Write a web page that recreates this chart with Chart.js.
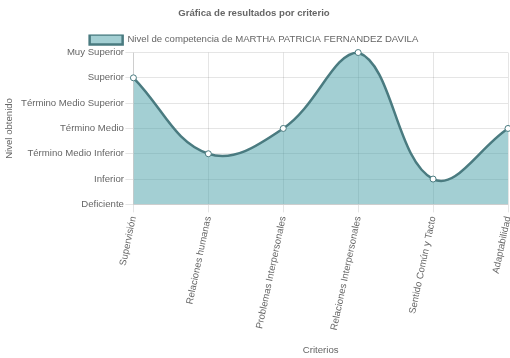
<!DOCTYPE html>
<html>
<head>
<meta charset="utf-8">
<script src="https://cdn.jsdelivr.net/npm/chart.js@4"></script>
<style>
  html, body { margin: 0; padding: 0; background: #fff; }
  #wrap { width: 510px; height: 358px; }
</style>
</head>
<body>
<div id="wrap"><canvas id="chart" width="510" height="358"></canvas></div>
<script>
// Criterios evaluados
const criterios = ['Supervisión', 'Relaciones humanas', 'Problemas Interpersonales',
  'Relaciones Interpersonales', 'Sentido Común y Tacto', 'Adaptabilidad'];

// Niveles (de abajo hacia arriba)
const niveles = ['Deficiente', 'Inferior', 'Término Medio Inferior', 'Término Medio',
  'Término Medio Superior', 'Superior', 'Muy Superior'];

// Nivel obtenido por criterio (indice en niveles)
const resultados = [5, 2, 3, 6, 1, 3];

const fontFamily = '"Liberation Sans", Arial, sans-serif';
const fs = 9.6;
Chart.defaults.font.family = fontFamily;
Chart.defaults.color = '#666';

new Chart(document.getElementById('chart'), {
    type: 'line',
    data: {
        labels: criterios,
        datasets: [{
            label: 'Nivel de competencia de MARTHA PATRICIA FERNANDEZ DAVILA',
            data: resultados,
            borderColor: '#4a7b80',
            backgroundColor: 'rgba(72, 160, 168, 0.5)',
            borderWidth: 2.5,
            fill: 'start',
            tension: 0.4,
            pointRadius: 3,
            pointBackgroundColor: '#fff',
            pointBorderColor: '#4a7b80',
            pointBorderWidth: 1,
            clip: 6
        }]
    },
    options: {
        responsive: false,
        animation: false,
        layout: {
            autoPadding: false,
            padding: { top: 0, right: 2, bottom: 2, left: 0 }
        },
        plugins: {
            title: {
                display: true,
                text: 'Gráfica de resultados por criterio',
                font: { size: fs, weight: 'bold' },
                padding: { top: 8, bottom: 15 }
            },
            legend: {
                maxHeight: 18,
                labels: {
                    boxWidth: 33,
                    boxHeight: 10,
                    font: { size: fs },
                    padding: 0
                }
            },
            tooltip: { enabled: false }
        },
        scales: {
            x: {
                grid: { color: 'rgba(0,0,0,0.1)' },
                ticks: {
                    font: { size: fs },
                    minRotation: 78,
                    maxRotation: 78,
                    autoSkip: false
                },
                title: {
                    display: true,
                    text: 'Criterios',
                    font: { size: fs },
                    padding: { top: 10, bottom: 0 }
                },
                afterFit: function(scale) {
                    scale.paddingRight = 0;
                }
            },
            y: {
                min: 0,
                max: 6,
                grid: { color: 'rgba(0,0,0,0.1)' },
                ticks: {
                    stepSize: 1,
                    padding: 1.5,
                    font: { size: fs },
                    callback: function(value) {
                        return niveles[value];
                    }
                },
                title: {
                    display: true,
                    text: 'Nivel obtenido',
                    font: { size: fs }
                }
            }
        }
    }
});
</script>
</body>
</html>
